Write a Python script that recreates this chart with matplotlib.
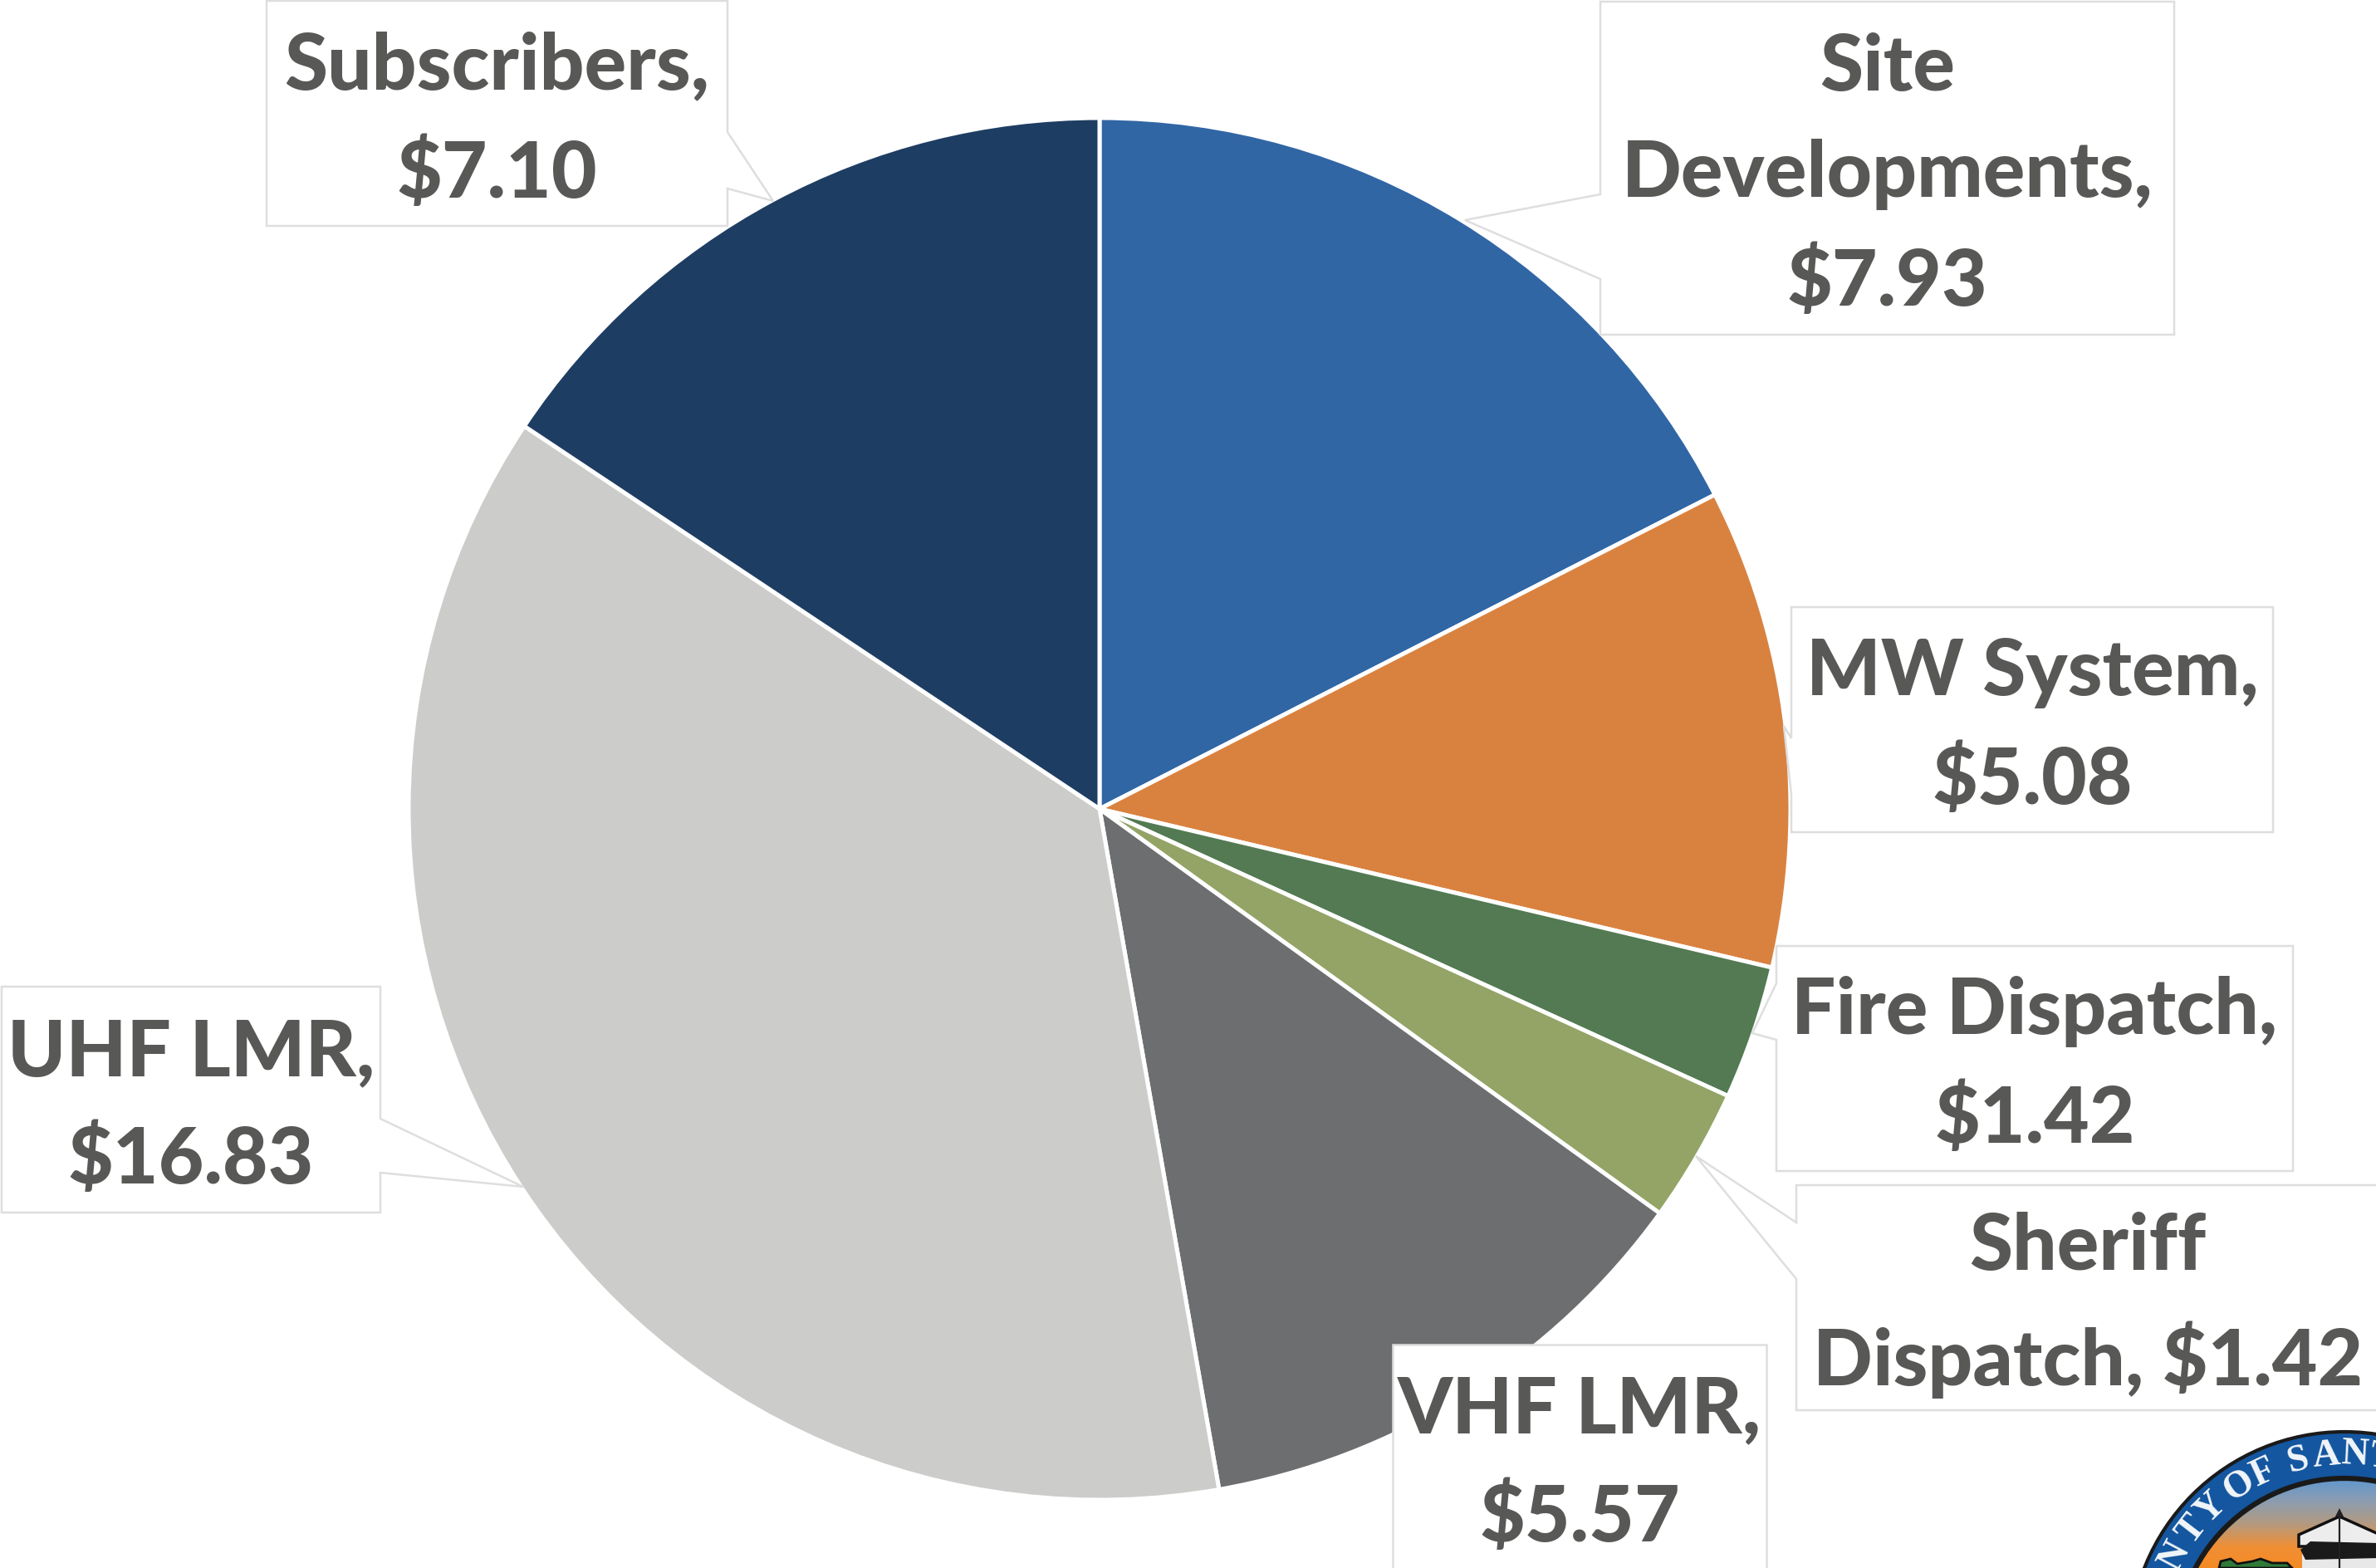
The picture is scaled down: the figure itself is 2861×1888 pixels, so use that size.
import matplotlib
matplotlib.use("Agg")
import matplotlib.pyplot as plt
import numpy as np
from matplotlib.colors import LinearSegmentedColormap
from matplotlib.patches import Circle, Polygon

# Cost per category, $M
values = [7.93, 5.08, 1.42, 1.42, 5.57, 16.83, 7.10]
colors = ["#3166A5", "#D98240", "#537A52", "#93A466", "#6D6E70", "#CCCCCA", "#1E3D63"]
labels = [
    "Site\nDevelopments,\n$7.93",
    "MW System,\n$5.08",
    "Fire Dispatch,\n$1.42",
    "Sheriff\nDispatch, $1.42",
    "VHF LMR,\n$5.57",
    "UHF LMR,\n$16.83",
    "Subscribers,\n$7.10",
]

# Seal lettering, one entry per letter, with its angle from straight up
seal_letters = ["N", "T", "Y", "O", "F", "S", "A", "N", "T"]
seal_angles = [-62, -52.5, -44, -33, -25, -14, -5.5, 3, 11]
sky_colors = ["#5F97CF", "#8D9DB0", "#B39A80", "#F08F35", "#F58A24"]

plt.rcParams["font.family"] = ["Lato", "DejaVu Sans"]

W, H = 2861, 1888
fig = plt.figure(figsize=(W / 100, H / 100), dpi=100)
ax = fig.add_axes([0, 0, 1, 1])

# axes run in image pixels with y pointing down, so "counterclock" reads clockwise on screen
ax.pie(values, colors=colors, center=(1324, 974), radius=832, startangle=-90,
       counterclock=True, frame=True,
       wedgeprops={"edgecolor": "white", "linewidth": 3.6})


def callout(x0, x1, y0, y1, label, pts, side):
    # box outline with the leader notch cut into one side
    if side == "right":
        path = [(x0, y0), (x1, y0)] + pts + [(x1, y1), (x0, y1)]
    else:
        path = [(x0, y0), (x1, y0), (x1, y1), (x0, y1)] + pts
    ax.add_patch(Polygon(path, closed=True, facecolor="white", edgecolor="#DEDEDE",
                         linewidth=1.8, zorder=3))
    # +9 because the bold face sits a little high against the box centre
    ax.text((x0 + x1) / 2, (y0 + y1) / 2 + 9, label, ha="center", va="center",
            fontsize=68, fontweight=900, color="#585956", linespacing=1.6, zorder=4)


callout(1927, 2618, 2, 403, labels[0], [(1927, 336), (1764, 265), (1927, 234)], "left")
callout(2157, 2737, 731, 1002, labels[1], [(2157, 957), (2148, 874), (2157, 889)], "left")
callout(2139, 2761, 1139, 1410, labels[2], [(2139, 1252), (2110, 1244), (2139, 1184)], "left")
callout(2163, 2865, 1427, 1698, labels[3], [(2163, 1540), (2042, 1392), (2163, 1472)], "left")
callout(1677, 2127, 1619, 1890, labels[4], [], "left")
callout(2, 458, 1188, 1460, labels[5], [(458, 1347), (630, 1429), (458, 1412)], "right")
callout(321, 876, 1, 272, labels[6], [(876, 159), (931, 242), (876, 227)], "right")

# County seal in the corner, cut off by the page edge
cx, cy = 2823, 1983
ax.add_patch(Circle((cx, cy), 259, facecolor="#14569F", edgecolor="#1A1A1A", linewidth=3, zorder=5))
sky = LinearSegmentedColormap.from_list("sky", sky_colors)
grad = np.linspace(0, 1, 200).reshape(-1, 1)
im = ax.imshow(grad, cmap=sky, extent=(cx - 203, cx + 203, 1890, 1780), aspect="auto", zorder=6)
edge = Circle((cx, cy), 203, facecolor="none", edgecolor="#1A1A1A", linewidth=4.5, zorder=7)
ax.add_patch(edge)
im.set_clip_path(edge)

for ch, ang in zip(seal_letters, seal_angles):
    a = np.radians(ang)
    ax.text(cx + 231 * np.sin(a), cy - 231 * np.cos(a), ch, rotation=-ang, rotation_mode="anchor",
            ha="center", va="center", fontsize=33, fontweight="bold",
            family="Liberation Serif", color="#F2F6FA", zorder=8)

# tower
ax.add_patch(Polygon([(2772, 1888), (2772, 1860), (2866, 1860), (2866, 1888)],
                     facecolor="#E8E8E8", edgecolor="none", zorder=8))
ax.add_patch(Polygon([(2768, 1848), (2817, 1826), (2866, 1848), (2866, 1862), (2768, 1862)],
                     facecolor="#EDEDED", edgecolor="#111111", linewidth=2.5, zorder=8))
ax.add_patch(Polygon([(2770, 1866), (2782, 1856), (2866, 1858), (2866, 1876), (2776, 1878)],
                     facecolor="#1A1A1A", edgecolor="none", zorder=9))
ax.add_patch(Polygon([(2812, 1826), (2817, 1816), (2822, 1826)],
                     facecolor="#222222", edgecolor="none", zorder=9))
ax.plot([2817, 2817], [1826, 1888], color="#222222", linewidth=1.6, zorder=10)

# bushes
ax.add_patch(Polygon([(2672, 1888), (2674, 1880), (2686, 1877), (2694, 1883), (2712, 1880),
                      (2722, 1877), (2736, 1882), (2754, 1882), (2760, 1888)],
                     facecolor="#2F7A3A", edgecolor="#111111", linewidth=2, zorder=8))

ax.set_xlim(0, W)
ax.set_ylim(H, 0)
ax.axis("off")

fig.savefig("out.png", dpi=100, facecolor="white")
